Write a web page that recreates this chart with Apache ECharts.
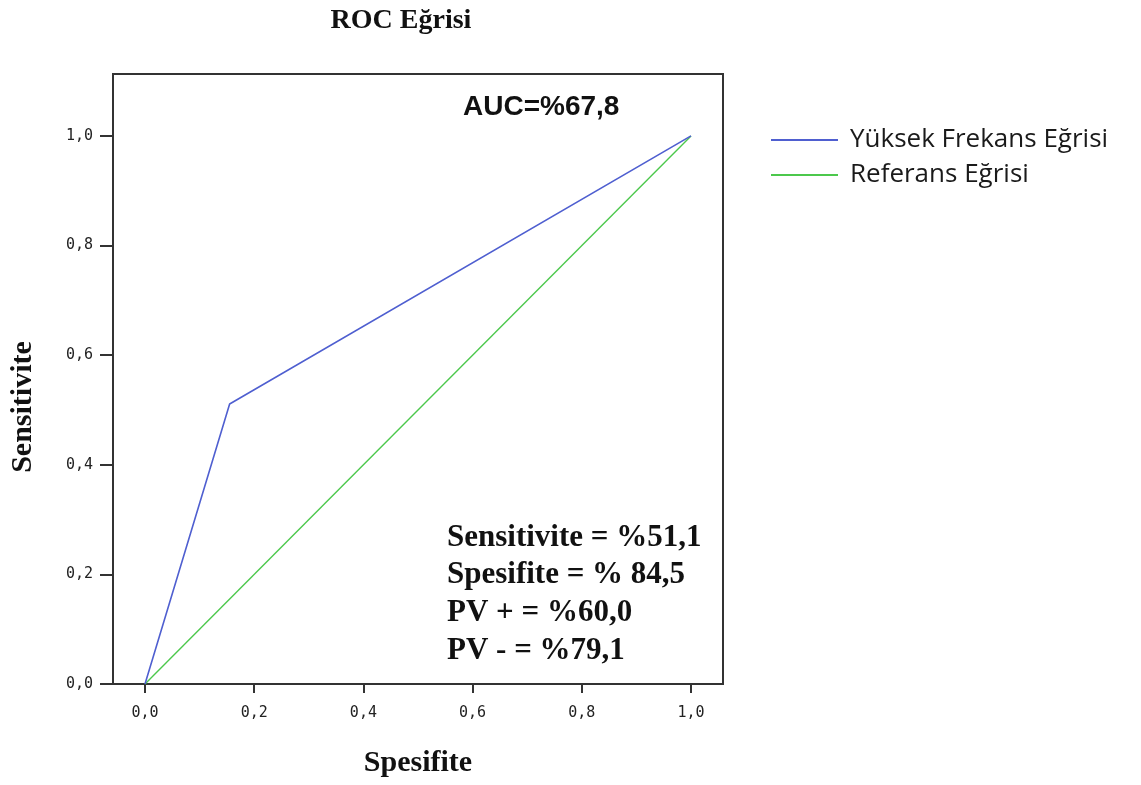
<!DOCTYPE html>
<html>
<head>
<meta charset="utf-8">
<script src="https://cdn.jsdelivr.net/npm/echarts@6/dist/echarts.min.js"></script>
<style>
  html, body { margin: 0; padding: 0; background: #fff; }
  #chart { width: 1141px; height: 785px; }
</style>
</head>
<body>
<div id="chart"></div>
<script>
// Diagnostic summary (percent)
const sensitivityPct = 51.1;
const specificityPct = 84.5;
const ppvPct = 60.0;
const npvPct = 79.1;
const aucPct = 67.8;

// ROC cut-off point: x = 1 - specificity, y = sensitivity
const rocX = [0, 1 - specificityPct / 100, 1];
const rocY = [0, sensitivityPct / 100, 1];
const refX = [0, 1];
const refY = [0, 1];

const tickValues = [0, 0.2, 0.4, 0.6, 0.8, 1.0];
const seriesNames = ['Yüksek Frekans Eğrisi', 'Referans Eğrisi'];

const fmt = v => v.toFixed(1).replace('.', ',');
const pctText = v => v.toFixed(1).replace('.', ',');

const statLines = [
  'Sensitivite = %' + pctText(sensitivityPct),
  'Spesifite = % ' + pctText(specificityPct),
  'PV + = %' + pctText(ppvPct),
  'PV - = %' + pctText(npvPct)
];

const chart = echarts.init(document.getElementById('chart'), null, { renderer: 'canvas' });

const axisColor = '#333';
const tickFont = { fontFamily: 'DejaVu Sans Mono', fontSize: 15, color: '#222' };
const serif = '"Liberation Serif", "Times New Roman", serif';

chart.setOption({
  animation: false,
  backgroundColor: '#fff',
  title: {
    text: 'ROC Eğrisi',
    left: 396,
    top: 2,
    textAlign: 'center',
    textStyle: { fontFamily: serif, fontWeight: 'bold', fontSize: 28, color: '#111' }
  },
  grid: {
    left: 113, right: 418, top: 74, bottom: 101,
    containLabel: false,
    outerBoundsMode: 'none',
    show: true, borderColor: axisColor, borderWidth: 2, backgroundColor: 'transparent'
  },
  legend: {
    orient: 'vertical',
    left: 771,
    top: 127,
    padding: 0,
    itemWidth: 67,
    itemHeight: 2,
    itemGap: 9,
    icon: 'rect',
    data: seriesNames,
    textStyle: { fontFamily: '"Open Sans", sans-serif', fontSize: 26, color: '#1a1a1a', padding: [0, 0, 0, 7] }
  },
  xAxis: {
    type: 'value',
    min: -0.0586,
    max: 1.0586,
    name: 'Spesifite',
    nameLocation: 'middle',
    nameGap: 64,
    nameTextStyle: { fontFamily: serif, fontWeight: 'bold', fontSize: 30, color: '#111' },
    axisLine: { show: true, onZero: false, lineStyle: { color: axisColor, width: 2 } },
    axisTick: { show: true, length: 9, customValues: tickValues, lineStyle: { color: axisColor, width: 2 } },
    axisLabel: Object.assign({ customValues: tickValues, margin: 22, formatter: fmt }, tickFont),
    splitLine: { show: false }
  },
  yAxis: {
    type: 'value',
    min: 0,
    max: 1.113,
    name: 'Sensitivite',
    nameLocation: 'middle',
    nameGap: 75,
    nameRotate: 90,
    nameTextStyle: { fontFamily: serif, fontWeight: 'bold', fontSize: 30, color: '#111', padding: [0, 56, 0, 0] },
    axisLine: { show: true, onZero: false, lineStyle: { color: axisColor, width: 2 } },
    axisTick: { show: true, length: 13, customValues: tickValues, lineStyle: { color: axisColor, width: 2 } },
    axisLabel: Object.assign({ customValues: tickValues, margin: 20, formatter: fmt }, tickFont),
    splitLine: { show: false }
  },
  series: [
    {
      name: seriesNames[0],
      type: 'line',
      data: rocX.map((x, i) => [x, rocY[i]]),
      showSymbol: false,
      symbol: 'none',
      lineStyle: { color: '#4f5fd0', width: 1.6 },
      itemStyle: { color: '#4f5fd0' },
      z: 3
    },
    {
      name: seriesNames[1],
      type: 'line',
      data: refX.map((x, i) => [x, refY[i]]),
      showSymbol: false,
      symbol: 'none',
      lineStyle: { color: '#4cc84c', width: 1.4 },
      itemStyle: { color: '#4cc84c' },
      z: 2
    }
  ],
  graphic: [
    {
      type: 'text',
      left: 463,
      top: 93,
      style: {
        text: 'AUC=%' + pctText(aucPct),
        fontFamily: '"Liberation Sans", Arial, sans-serif',
        fontWeight: 'bold',
        fontSize: 28,
        fill: '#111'
      }
    }
  ].concat(statLines.map((t, i) => ({
    type: 'text',
    left: 447,
    top: 522 + i * 37.7,
    style: {
      text: t,
      fontFamily: serif,
      fontWeight: 'bold',
      fontSize: 31,
      fill: '#111'
    }
  })))
});
</script>
</body>
</html>
